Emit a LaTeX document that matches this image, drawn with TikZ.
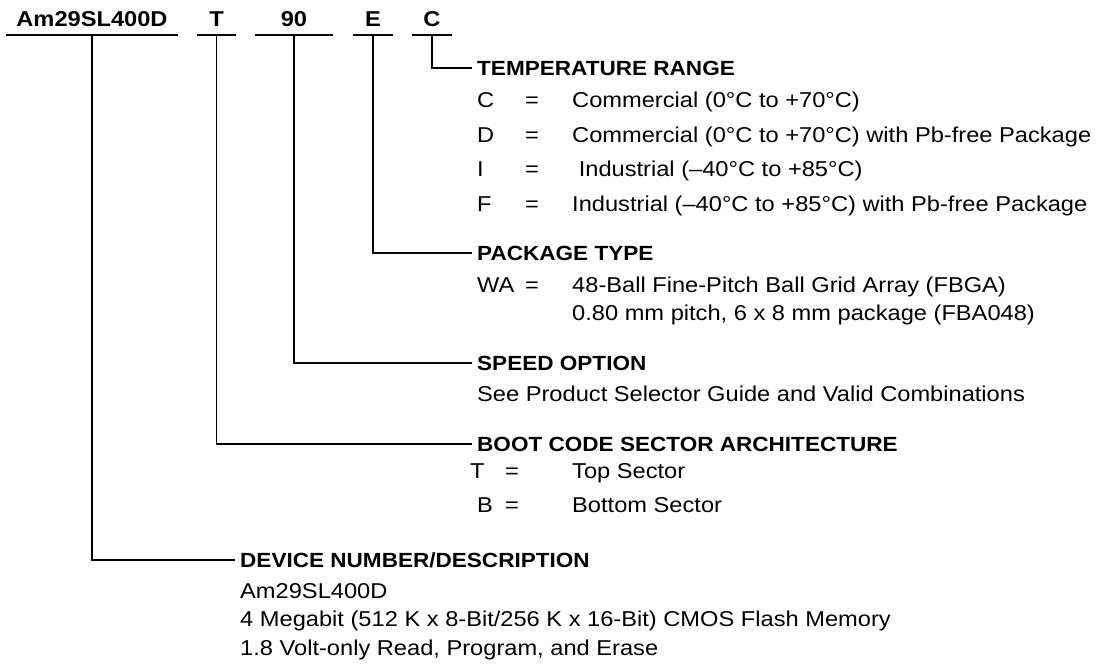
\documentclass[tikz,border=0pt]{standalone}
\usepackage{fontspec}
\setmainfont{Liberation Sans}[FakeStretch=1.1]
\usetikzlibrary{positioning}

\begin{document}
\begin{tikzpicture}[x=1pt,y=-1pt,
    code/.style={font=\fontsize{21.5}{26}\selectfont\bfseries,anchor=base,inner xsep=0pt,inner ysep=9pt,text height=16pt,text depth=0pt},
    head/.style={font=\fontsize{20.5}{26}\selectfont\bfseries,anchor=west,inner xsep=5pt,inner ysep=0pt,text height=15pt,text depth=0pt},
    txt/.style={font=\fontsize{21.5}{26}\selectfont,anchor=base west,inner sep=0pt},
    lead/.style={line width=1.8pt}]
    \useasboundingbox (0,0) rectangle (1098,665);
    % fields of the part number
    \node[code,minimum width=172pt] (pn) at (92,26) {Am29SL400D};
    \node[code,minimum width=39pt] (bt) at (216.5,26) {T};
    \node[code,minimum width=78pt] (sp) at (294,26) {90};
    \node[code,minimum width=40pt] (pk) at (373,26) {E};
    \node[code,minimum width=40pt] (tr) at (432,26) {C};
    \foreach \n in {pn,bt,sp,pk,tr} \draw[lead] (\n.south west)--(\n.south east);
    % headings
    \node[head] (htr) at (472,68) {TEMPERATURE RANGE};
    \node[head] (hpk) at (472,253) {PACKAGE TYPE};
    \node[head] (hsp) at (472,363) {SPEED OPTION};
    \node[head] (hbt) at (472,444) {BOOT CODE SECTOR ARCHITECTURE};
    \node[head] (hpn) at (235,560) {DEVICE NUMBER/DESCRIPTION};
    \draw[lead] (tr.south) |- (htr.west);
    \draw[lead] (pk.south) |- (hpk.west);
    \draw[lead] (sp.south) |- (hsp.west);
    \draw[lead] (bt.south) |- (hbt.west);
    \draw[lead] (pn.south) |- (hpn.west);
    % temperature range
    \foreach \k/\v/\y [count=\i] in {C/{Commercial (0°C to +70°C)}/107,
        D/{Commercial (0°C to +70°C) with Pb-free Package}/142,
        I/{\ Industrial (–40°C to +85°C)}/176,
        F/{Industrial (–40°C to +85°C) with Pb-free Package}/211}{
      \node[txt] (tk\i) at (477,\y) {\k};
      \node[txt] (te\i) at (525,\y) {=};
      \node[txt] (tv\i) at (572,\y) {\v};
    }
    % package type
    \node[txt] (pk1) at (477,292) {WA};
    \node[txt] (pe1) at (525,292) {=};
    \node[txt] (pv1) at (572,292) {48-Ball Fine-Pitch Ball Grid Array (FBGA)};
    \node[txt] (pv2) at (572,320) {0.80 mm pitch, 6 x 8 mm package (FBA048)};
    % speed option
    \node[txt] (sv1) at (477,401) {See Product Selector Guide and Valid Combinations};
    % boot code sector
    \node[txt] (bk1) at (470,478) {T};
    \node[txt] (be1) at (505,478) {=};
    \node[txt] (bv1) at (572,478) {Top Sector};
    \node[txt] (bk2) at (477,512) {B};
    \node[txt] (be2) at (505,512) {=};
    \node[txt] (bv2) at (572,512) {Bottom Sector};
    % device number
    \node[txt] (dv1) at (240,598) {Am29SL400D};
    \node[txt] (dv2) at (240,626) {4 Megabit (512 K x 8-Bit/256 K x 16-Bit) CMOS Flash Memory};
    \node[txt] (dv3) at (240,655) {1.8 Volt-only Read, Program, and Erase};
\end{tikzpicture}
\end{document}
